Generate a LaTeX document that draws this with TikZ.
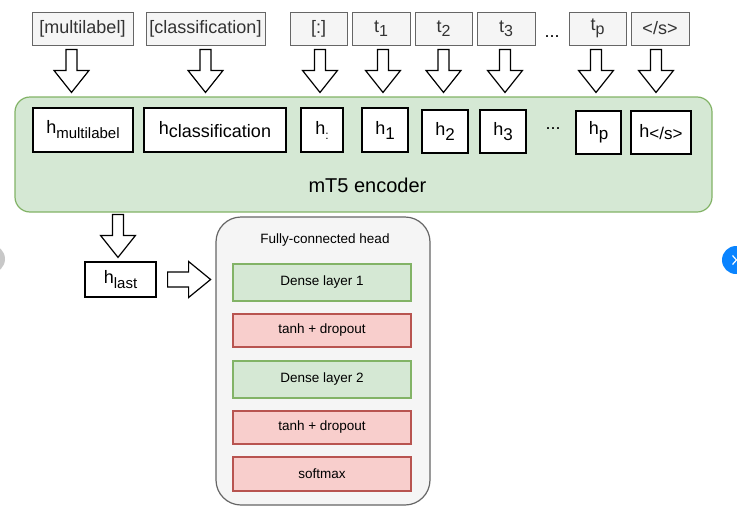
\documentclass[tikz,border=0pt]{standalone}
\usepackage{fontspec}
\setmainfont{Liberation Sans}
\usetikzlibrary{calc}
\definecolor{tokfill}{HTML}{F5F5F5}
\definecolor{tokdraw}{HTML}{666666}
\definecolor{toktext}{HTML}{333333}
\definecolor{gfill}{HTML}{D5E8D4}
\definecolor{gdraw}{HTML}{82B366}
\definecolor{rfill}{HTML}{F8CECC}
\definecolor{rdraw}{HTML}{B85450}
\definecolor{uiblue}{HTML}{0A84FF}
\definecolor{uigray}{HTML}{C8C8C8}
\newcommand{\fs}[1]{\fontsize{#1}{#1}\selectfont}
\newcommand{\hsub}[3]{h\raisebox{-#3pt}{\fs{#2}#1}}
\newcommand{\bx}[7]{\node[#6, minimum width={#4-#2}, minimum height={#5-#3}] (#1) at ({(#2+#4)/2},{(#3+#5)/2}) {#7};}
\newcommand{\dnarrow}[1]{\draw[barrow] (#1) ++(-5.5,0) -- ++(0,21) -- ++(-12,0) -- ++(17.5,22) -- ++(17.5,-22) -- ++(-12,0) -- ++(0,-21) -- cycle;}
\newcommand{\rtarrow}[1]{\draw[barrow] (#1) ++(0,-7.5) -- ++(21,0) -- ++(0,-10.5) -- ++(22,18) -- ++(-22,18) -- ++(0,-10.5) -- ++(-21,0) -- cycle;}
\tikzset{
  tok/.style={draw=tokdraw, fill=tokfill, text=toktext, font=\fs{18}, inner sep=0pt, line width=0.9pt},
  hbox/.style={draw=black, fill=white, font=\fs{18}, inner sep=0pt, line width=1.2pt},
  greenl/.style={draw=gdraw, fill=gfill, font=\fs{13.5}, inner sep=0pt, line width=1.2pt},
  redl/.style={draw=rdraw, fill=rfill, font=\fs{13.5}, inner sep=0pt, line width=1.2pt},
  barrow/.style={draw=black, fill=white, line width=1.2pt, line join=miter},
  plain/.style={inner sep=0pt}
}
\begin{document}
\begin{tikzpicture}[x=1pt, y=-1pt]
\useasboundingbox (0,0) rectangle (737,517);
% UI artifacts at the edges
\fill[uigray] (-9,259) circle (14);
\fill[uiblue] (736,260) circle (14);
\draw[white, line width=1.2pt] (732.5,255.5) -- (736.5,260) -- (732.5,264.5);
% top tokens
\bx{ml}{32}{12}{133}{45}{tok}{[multilabel]}
\bx{cl}{146}{12}{265}{45}{tok}{[classification]}
\bx{co}{290}{12}{347}{45}{tok}{[:]}
\bx{t1}{352}{12}{410}{45}{tok}{t\raisebox{-4pt}{\fs{16}1}}
\bx{t2}{415}{12}{472}{45}{tok}{t\raisebox{-4pt}{\fs{16}2}}
\bx{t3}{477}{12}{535}{45}{tok}{t\raisebox{-4pt}{\fs{16}3}}
\bx{tp}{569}{12}{626}{45}{tok}{t\raisebox{-4pt}{\fs{16}p}}
\bx{es}{631}{12}{689}{45}{tok}{</s>}
\node[plain, font=\fs{18}] (dots1) at (552,37) {...};
% encoder
\bx{enc}{15}{97}{712}{212}{draw=gdraw, fill=gfill, line width=1.2pt, rounded corners=15pt}{}
\node[plain, font=\fs{20}] (enclabel) at (367.5,185) {mT5 encoder};
\bx{hml}{33}{108}{133}{152}{hbox}{\hsub{multilabel}{15}{5}}
\bx{hcl}{144}{108}{286}{152}{hbox}{\hsub{classification}{18}{3}}
\bx{hco}{301}{108}{343}{152}{hbox}{\hsub{:}{12}{5}}
\bx{h1}{362}{108}{408}{152}{hbox}{\hsub{1}{17}{5}}
\bx{h2}{422}{110}{468}{153}{hbox}{\hsub{2}{17}{5}}
\bx{h3}{480}{110}{526}{153}{hbox}{\hsub{3}{17}{5}}
\bx{hp}{576}{111}{621}{154}{hbox}{\hsub{p}{17}{5}}
\bx{hes}{631}{111}{691}{154}{hbox}{\hsub{</s>}{17}{2}}
\node[plain, font=\fs{18}] (dots2) at (553,129) {...};
% arrows into encoder
\dnarrow{$(ml.south)+(-11,4)$}
\dnarrow{$(cl.south)+(0,4)$}
\dnarrow{$(co.south)+(1.5,4)$}
\dnarrow{$(t1.south)+(2,4)$}
\dnarrow{$(t2.south)+(0,4)$}
\dnarrow{$(t3.south)+(-1,4)$}
\dnarrow{$(tp.south)+(-1.5,4)$}
\dnarrow{$(es.south)+(-4,4)$}
% h_last
\bx{hl}{85}{262}{156}{297}{hbox}{\hsub{last}{15}{5}}
\dnarrow{$(hl.north)+(-2.5,-47)$}
% head
\bx{head}{216}{217}{430}{505}{draw=tokdraw, fill=tokfill, line width=1.2pt, rounded corners=25pt}{}
\node[plain, font=\fs{13.5}] (headtitle) at (325,240) {Fully-connected head};
\rtarrow{$(hl.east)+(11,0)$}
\bx{d1}{233}{264}{411}{301}{greenl}{Dense layer 1}
\bx{a1}{233}{314}{411}{347}{redl}{tanh + dropout}
\bx{d2}{233}{361}{411}{398}{greenl}{Dense layer 2}
\bx{a2}{233}{411}{411}{444}{redl}{tanh + dropout}
\bx{sm}{233}{457}{411}{491}{redl}{softmax}
\end{tikzpicture}
\end{document}
